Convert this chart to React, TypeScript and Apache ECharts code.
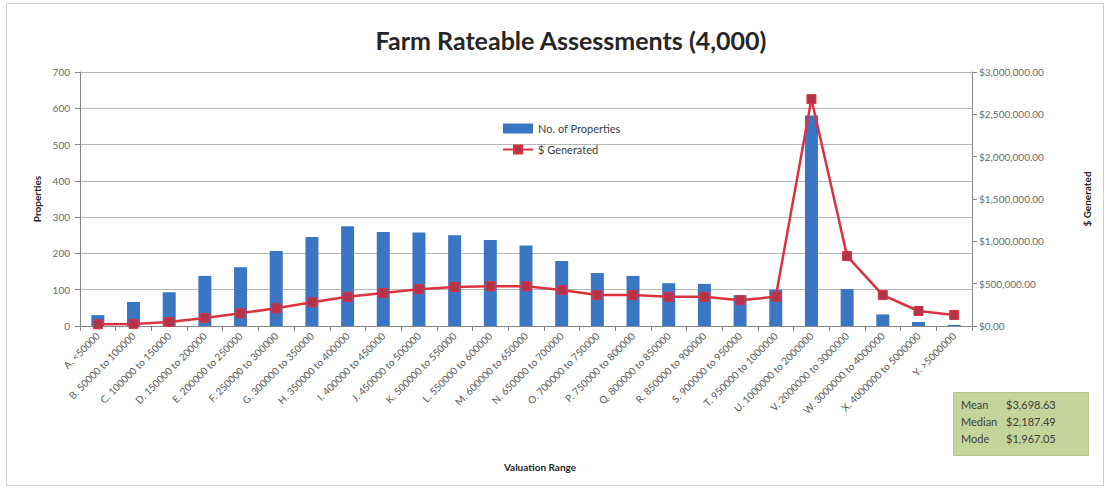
import React, { useEffect, useRef } from "react";
import * as echarts from "echarts";

const categories = [
  "A. <50000",
  "B. 50000 to 100000",
  "C. 100000 to 150000",
  "D. 150000 to 200000",
  "E. 200000 to 250000",
  "F. 250000 to 300000",
  "G. 300000 to 350000",
  "H. 350000 to 400000",
  "I. 400000 to 450000",
  "J. 450000 to 500000",
  "K. 500000 to 550000",
  "L. 550000 to 600000",
  "M. 600000 to 650000",
  "N. 650000 to 700000",
  "O. 700000 to 750000",
  "P. 750000 to 800000",
  "Q. 800000 to 850000",
  "R. 850000 to 900000",
  "S. 900000 to 950000",
  "T. 950000 to 1000000",
  "U. 1000000 to 2000000",
  "V. 2000000 to 3000000",
  "W. 3000000 to 4000000",
  "X. 4000000 to 5000000",
  "Y. >5000000",
];

const properties = [30, 66, 93, 138, 162, 207, 245, 275, 259, 258, 250, 237, 222, 179, 146, 138, 118, 116, 85, 100, 580, 102, 32, 11, 3];

const generated = [
  20000, 25000, 47000, 95000, 150000, 210000, 280000, 345000, 390000, 435000, 460000, 470000, 470000,
  425000, 365000, 365000, 345000, 345000, 305000, 345000, 2680000, 825000, 365000, 177000, 130000,
];

const statLabels = ["Mean", "Median", "Mode"];
const statValues = ["$3,698.63", "$2,187.49", "$1,967.05"];

const FONT = "Lato, 'Open Sans', sans-serif";

export default function App() {
  const ref = useRef<HTMLDivElement>(null);
  useEffect(() => {
    if (!ref.current) return;
    const chart = echarts.init(ref.current, null, { renderer: "svg" });
    const statTexts: any[] = [];
    statLabels.forEach((l, i) => {
      statTexts.push({
        type: "text",
        left: 961,
        top: 399 + i * 17,
        style: { text: l, font: `11px ${FONT}`, fill: "#404040" },
      });
      statTexts.push({
        type: "text",
        left: 1006,
        top: 399 + i * 17,
        style: { text: statValues[i], font: `11px ${FONT}`, fill: "#404040" },
      });
    });
    chart.setOption({
      animation: false,
      backgroundColor: "#ffffff",
      textStyle: { fontFamily: FONT },
      title: {
        text: "Farm Rateable Assessments (4,000)",
        left: 566,
        textAlign: "center",
        top: 22,
        textStyle: { fontFamily: FONT, fontSize: 25, fontWeight: "bold", color: "#262626" },
      },
      legend: {
        orient: "vertical",
        left: 497,
        top: 118,
        itemGap: 10,
        itemWidth: 30,
        itemHeight: 10,
        textStyle: { fontSize: 11, color: "#404040", fontFamily: FONT },
        data: [
          { name: "No. of Properties", icon: "rect" },
          { name: "$ Generated" },
        ],
      },
      grid: { left: 80, right: 133, top: 72, bottom: 162 },
      xAxis: {
        type: "category",
        data: categories,
        name: "Valuation Range",
        nameLocation: "middle",
        nameGap: 136,
        nameTextStyle: { fontSize: 10, fontWeight: "bold", color: "#262626", padding: [0, 0, 0, 28] },
        axisLine: { lineStyle: { color: "#868686" } },
        axisTick: { show: true, alignWithLabel: false, lineStyle: { color: "#868686" }, length: 5 },
        axisLabel: { interval: 0, rotate: 45, fontSize: 10, color: "#595959", margin: 8 },
      },
      yAxis: [
        {
          type: "value",
          min: 0,
          max: 700,
          interval: 100,
          name: "Properties",
          nameLocation: "middle",
          nameGap: 38,
          nameTextStyle: { fontSize: 10, fontWeight: "bold", color: "#262626" },
          axisLine: { show: true, lineStyle: { color: "#868686" } },
          axisTick: { show: true, lineStyle: { color: "#868686" }, length: 5 },
          axisLabel: { fontSize: 10, color: "#6a6a6a", margin: 10 },
          splitLine: { lineStyle: { color: "#b8b8b8" } },
        },
        {
          type: "value",
          min: 0,
          max: 3000000,
          interval: 500000,
          name: "$ Generated",
          nameLocation: "middle",
          nameRotate: 90,
          nameGap: 110,
          nameTextStyle: { fontSize: 10, fontWeight: "bold", color: "#262626" },
          axisLine: { show: true, lineStyle: { color: "#868686" } },
          axisTick: { show: true, lineStyle: { color: "#868686" }, length: 5 },
          axisLabel: {
            fontSize: 10,
            color: "#6a6a6a",
            margin: 7,
            formatter: (v: number) =>
              "$" + v.toLocaleString("en-US", { minimumFractionDigits: 2, maximumFractionDigits: 2 }),
          },
          splitLine: { show: false },
        },
      ],
      series: [
        {
          name: "No. of Properties",
          type: "bar",
          data: properties,
          barWidth: 13,
          itemStyle: { color: "#3a76c4" },
        },
        {
          name: "$ Generated",
          type: "line",
          yAxisIndex: 1,
          data: generated,
          symbol: "rect",
          symbolSize: 9,
          lineStyle: { color: "#d9333f", width: 2.5 },
          itemStyle: { color: "#b3344a", borderColor: "#d9333f", borderWidth: 1 },
        },
      ],
      graphic: [
        {
          type: "rect",
          left: 4,
          top: 1,
          shape: { width: 1097, height: 482 },
          style: { fill: "none", stroke: "#d0d0d0", lineWidth: 1 },
          silent: true,
        },
        {
          type: "rect",
          left: 953,
          top: 392,
          shape: { width: 135, height: 63 },
          style: { fill: "#c4d49a", stroke: "#b5c58b", lineWidth: 1 },
        },
        ...statTexts,
      ],
    });
    return () => chart.dispose();
  }, []);
  return (
    <div
      ref={ref}
      style={{ position: "absolute", left: 0, top: 0, width: 1105, height: 488 }}
    />
  );
}
